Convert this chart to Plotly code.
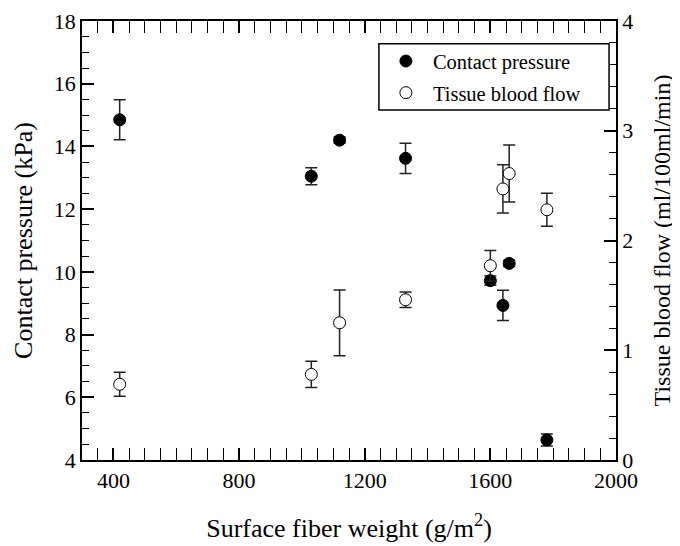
import plotly.graph_objects as go

weight = [420, 1030, 1120, 1330, 1600, 1640, 1660, 1780]
pressure = [14.85, 13.05, 14.2, 13.62, 9.72, 8.93, 10.27, 4.64]
pressure_err = [0.64, 0.27, 0.1, 0.48, 0.15, 0.48, 0.1, 0.19]
flow = [0.69, 0.78, 1.25, 1.46, 1.77, 2.47, 2.61, 2.28]
flow_err = [0.11, 0.12, 0.3, 0.07, 0.14, 0.22, 0.26, 0.15]

FONT = "Liberation Serif"
fig = go.Figure()
fig.add_trace(go.Scatter(
    x=weight, y=pressure, mode="markers", name="Contact pressure", legendgroup="a",
    marker=dict(symbol="circle", size=12, color="black", line=dict(color="black", width=1)),
    error_y=dict(type="data", array=pressure_err, visible=True, color="#222", thickness=1.5, width=6),
))
fig.add_trace(go.Scatter(
    x=weight, y=flow, mode="markers", name="Tissue blood flow", yaxis="y2", legendgroup="b",
    marker=dict(symbol="circle", size=12, color="white", line=dict(color="black", width=1)),
    error_y=dict(type="data", array=flow_err, visible=True, color="#222", thickness=1.5, width=6),
))

tick_common = dict(ticks="inside", ticklen=12, tickwidth=1.5, tickcolor="black",
                   showline=True, linecolor="black", linewidth=1.5, automargin=False,
                   showgrid=False, zeroline=False, tickfont=dict(size=22))

# legend frame
fig.add_shape(type="rect", xref="paper", yref="paper",
              x0=0.556, x1=0.987, y0=0.797, y1=0.948,
              line=dict(color="black", width=1.5), fillcolor="white", layer="above")

fig.update_layout(
    width=680, height=546,
    margin=dict(l=74, r=72, t=13, b=94, autoexpand=False),
    paper_bgcolor="white", plot_bgcolor="white",
    font=dict(family=FONT, size=22, color="black"),
    showlegend=True,
    legend=dict(x=0.556, y=0.954, xanchor="left", yanchor="top",
                borderwidth=0, bgcolor="rgba(0,0,0,0)",
                font=dict(family=FONT, size=20.5), itemwidth=44,
                traceorder="grouped", tracegroupgap=2),
    xaxis=dict(range=[300, 2000], tickvals=[400, 800, 1200, 1600, 2000], mirror="allticks",
               minor=dict(dtick=50, tick0=0, ticks="inside", ticklen=7, tickwidth=1.2, tickcolor="black", showgrid=False),
               title=dict(text="Surface fiber weight (g/m<sup>2</sup>)", font=dict(size=26), standoff=27),
               **tick_common),
    yaxis=dict(range=[4, 18], dtick=2, tick0=0, mirror=False,
               minor=dict(dtick=0.5, ticks="inside", ticklen=7, tickwidth=1.2, tickcolor="black", showgrid=False),
               title=dict(text="Contact pressure (kPa)", font=dict(size=26), standoff=14),
               **tick_common),
    yaxis2=dict(range=[0, 4], dtick=1, tick0=0, overlaying="y", side="right",
                minor=dict(dtick=0.2, ticks="inside", ticklen=7, tickwidth=1.2, tickcolor="black", showgrid=False),
                title=dict(text="Tissue blood flow (ml/100ml/min)", font=dict(size=24), standoff=21),
                **tick_common),
)

fig.write_html("out.html")
